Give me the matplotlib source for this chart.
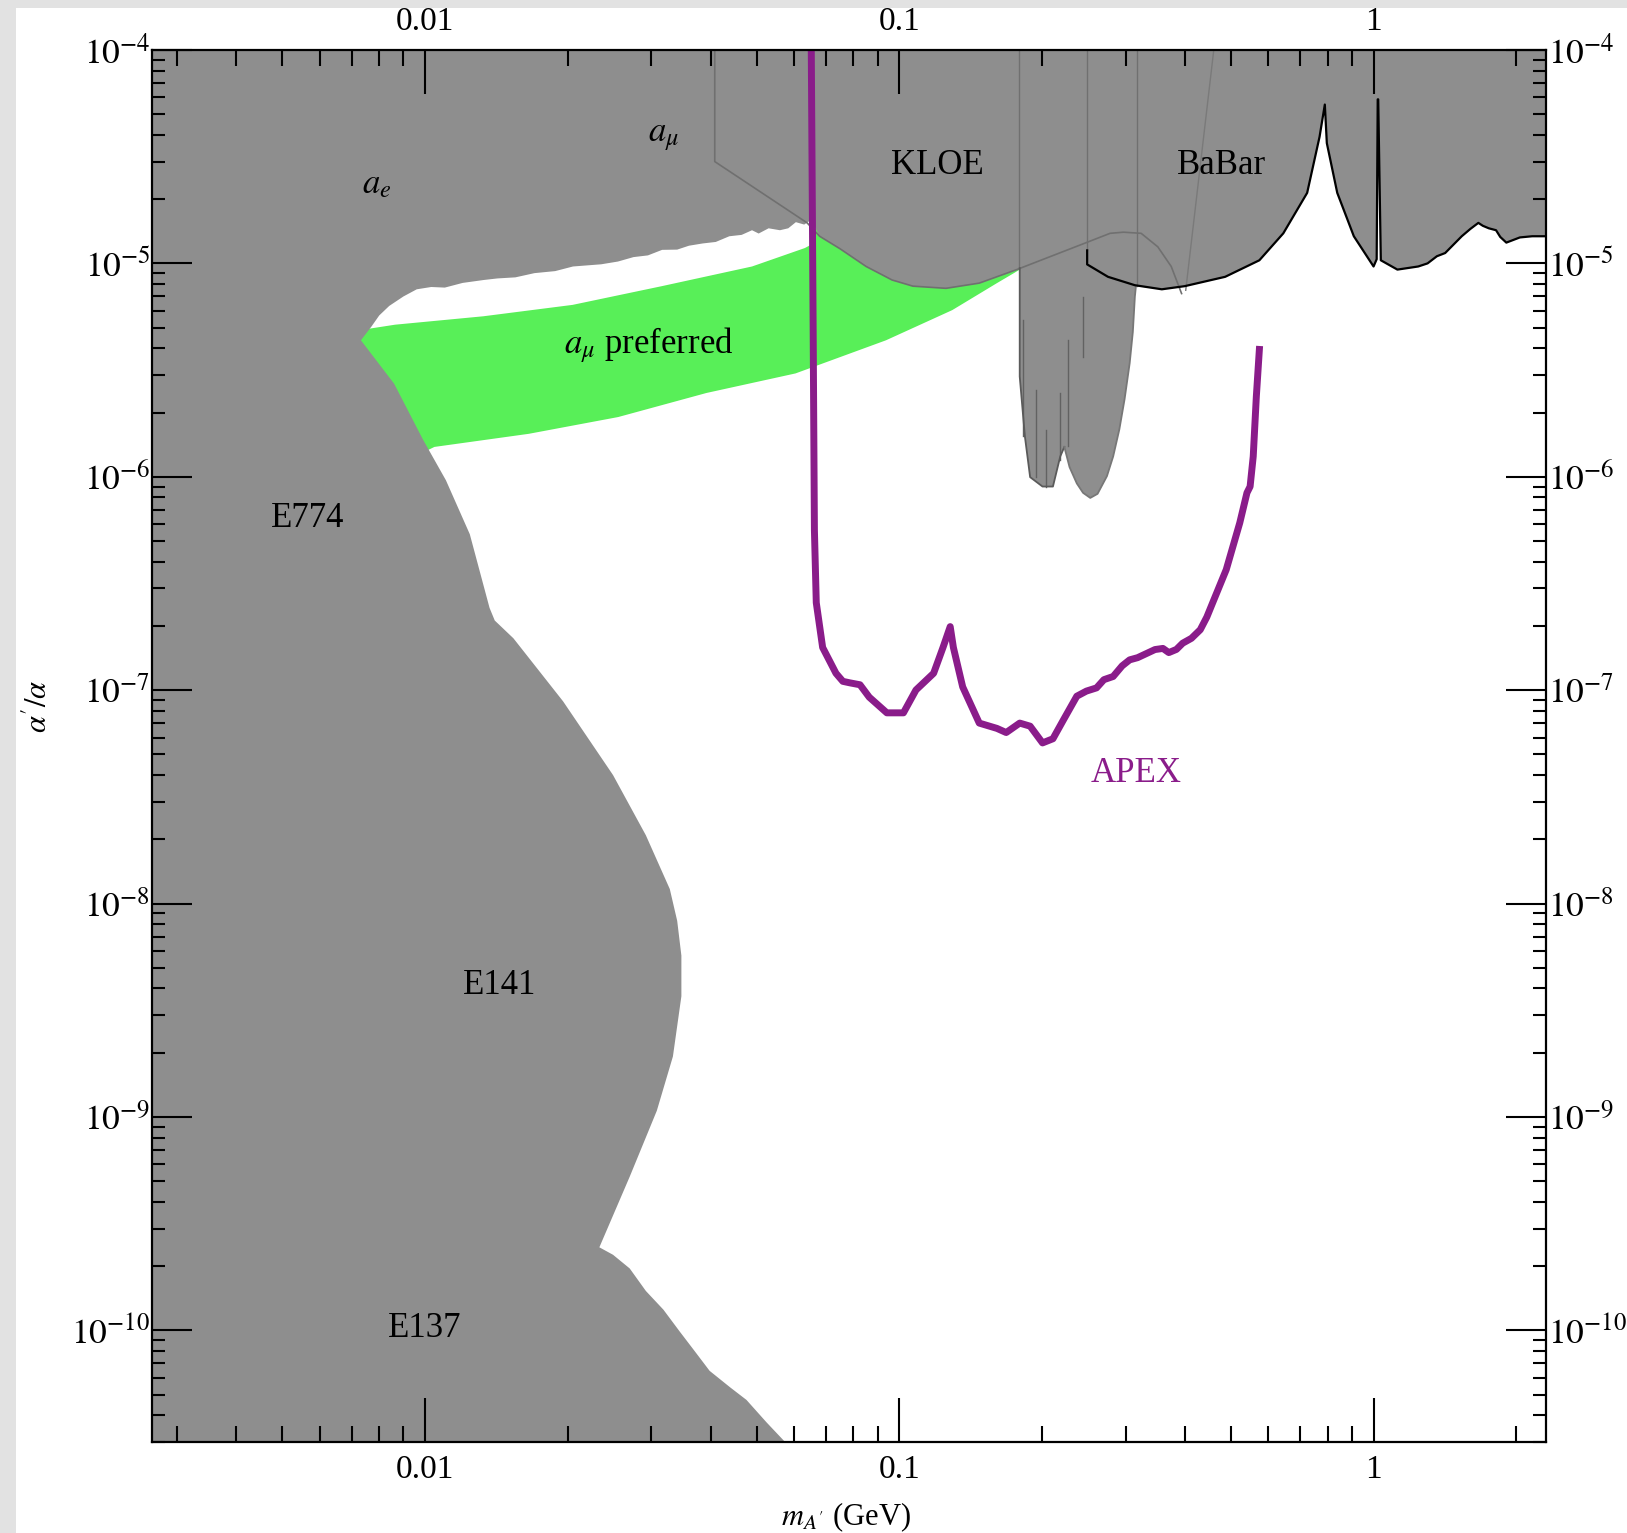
import numpy as np
import matplotlib.pyplot as plt
from matplotlib.patches import Rectangle
from matplotlib.ticker import LogLocator, FixedLocator, FixedFormatter, NullFormatter

plt.rcParams['font.family'] = ['Liberation Serif', 'DejaVu Serif']
plt.rcParams['mathtext.fontset'] = 'stix'

# a_e excluded region, lower (jagged) edge, right to left
ae_mass = [0.0652, 0.0630, 0.0605, 0.0583, 0.0560, 0.0530, 0.0505, 0.0489, 0.0465, 0.0438,
           0.0410, 0.0385, 0.0360, 0.0340, 0.0316, 0.0295, 0.0275, 0.0255, 0.0235, 0.0205,
           0.0188, 0.0170, 0.0155, 0.0142, 0.0133, 0.0120, 0.0110, 0.0103, 0.0096, 0.0090,
           0.0084, 0.0080, 0.0077]
ae_alpha = [1.60e-5, 1.52e-5, 1.56e-5, 1.46e-5, 1.43e-5, 1.46e-5, 1.38e-5, 1.43e-5, 1.36e-5, 1.34e-5,
            1.26e-5, 1.24e-5, 1.21e-5, 1.16e-5, 1.157e-5, 1.09e-5, 1.07e-5, 1.02e-5, 9.9e-6, 9.67e-6,
            9.2e-6, 9.0e-6, 8.6e-6, 8.5e-6, 8.36e-6, 8.1e-6, 7.7e-6, 7.75e-6, 7.56e-6, 7.0e-6,
            6.32e-6, 5.7e-6, 5.05e-6]

# beam dump (E774, E141, E137) edge, top to bottom
dump_mass = [0.00732, 0.00860, 0.00990, 0.01106, 0.01242, 0.01367, 0.01402, 0.01535, 0.01954, 0.0249,
             0.0292, 0.0328, 0.0340, 0.0347, 0.0347, 0.0333, 0.0308, 0.0270, 0.0233, 0.0249,
             0.0270, 0.0292, 0.0318, 0.0344, 0.0370, 0.0398, 0.0440, 0.0476, 0.0525, 0.0574, 0.0620]
dump_alpha = [4.36e-6, 2.73e-6, 1.49e-6, 9.63e-7, 5.38e-7, 2.43e-7, 2.12e-7, 1.75e-7, 8.86e-8, 4.00e-8,
              2.09e-8, 1.17e-8, 8.3e-9, 5.70e-9, 3.68e-9, 1.92e-9, 1.07e-9, 5.25e-10, 2.45e-10, 2.26e-10,
              1.95e-10, 1.53e-10, 1.25e-10, 9.89e-11, 8.0e-11, 6.46e-11, 5.4e-11, 4.72e-11, 3.7e-11, 3.0e-11, 2.4e-11]

# a_mu preferred band
green_top_mass = [0.00668, 0.00739, 0.00864, 0.01326, 0.02046, 0.03155, 0.0489, 0.0632, 0.0650, 0.0665, 0.0918, 0.195]
green_top_alpha = [4.89e-6, 4.89e-6, 5.16e-6, 5.65e-6, 6.39e-6, 7.82e-6, 9.67e-6, 1.18e-5, 1.22e-5, 1.45e-5, 1.6e-5, 1.9e-5]
green_low_mass = [0.00951, 0.01046, 0.01655, 0.02553, 0.0392, 0.0604, 0.0937, 0.1293, 0.1606, 0.175, 0.195]
green_low_alpha = [1.245e-6, 1.38e-6, 1.59e-6, 1.905e-6, 2.47e-6, 3.05e-6, 4.36e-6, 6.04e-6, 8.08e-6, 9.04e-6, 1.05e-5]

# a_mu / KLOE lower edge incl. the two funnels
kloe_mass = [0.0652, 0.0679, 0.0750, 0.0851, 0.0965, 0.1068, 0.1254, 0.1474, 0.1768, 0.1794,
             0.1794, 0.1840, 0.1887, 0.2004, 0.2108, 0.2184, 0.2228,
             0.2285, 0.2367, 0.2440, 0.2527, 0.2618, 0.2740, 0.2824, 0.2910, 0.2985, 0.3060,
             0.3107, 0.3138, 0.3154]
kloe_alpha = [1.60e-5, 1.34e-5, 1.17e-5, 9.67e-6, 8.36e-6, 7.82e-6, 7.64e-6, 8.08e-6, 9.35e-6, 9.5e-6,
              2.95e-6, 1.54e-6, 9.96e-7, 9.00e-7, 9.00e-7, 1.245e-6, 1.38e-6,
              1.11e-6, 9.31e-7, 8.41e-7, 7.96e-7, 8.32e-7, 1.007e-6, 1.245e-6, 1.667e-6, 2.31e-6, 3.41e-6,
              4.77e-6, 6.99e-6, 7.82e-6]

# dark streaks inside the first KLOE funnel
streak_mass = [0.1823, 0.1944, 0.2042, 0.2180, 0.2268, 0.2440]
streak_top = [5.43e-6, 2.55e-6, 1.66e-6, 2.47e-6, 4.38e-6, 6.98e-6]
streak_bottom = [1.55e-6, 1.0e-6, 9.0e-7, 1.2e-6, 1.39e-6, 3.66e-6]

# BaBar limit
babar_mass = [0.2489, 0.2489, 0.2754, 0.3138, 0.3577, 0.3997, 0.4865, 0.5744, 0.6452, 0.7244,
              0.7694, 0.7893, 0.7970, 0.8384, 0.9087, 1.000, 1.0153, 1.0204, 1.0229, 1.0359,
              1.1228, 1.2423, 1.30, 1.36, 1.4158, 1.5346, 1.60, 1.6634, 1.70, 1.75, 1.8127,
              1.85, 1.9055, 2.035, 2.161, 2.5]
babar_alpha = [1.15e-5, 9.89e-6, 8.65e-6, 7.9e-6, 7.56e-6, 7.82e-6, 8.65e-6, 1.034e-5, 1.383e-5, 2.14e-5,
               3.92e-5, 5.55e-5, 3.66e-5, 2.14e-5, 1.34e-5, 9.67e-6, 1.046e-5, 5.87e-5, 5.87e-5, 1.034e-5,
               9.35e-6, 9.67e-6, 1.0e-5, 1.08e-5, 1.118e-5, 1.34e-5, 1.45e-5, 1.548e-5, 1.50e-5, 1.46e-5, 1.43e-5,
               1.33e-5, 1.251e-5, 1.323e-5, 1.34e-5, 1.34e-5]

# faint internal boundaries
amu_line_mass = [0.0408, 0.0408, 0.0639, 0.0679, 0.0750, 0.0851, 0.0965, 0.1068, 0.1254, 0.1474,
                 0.1768, 0.2476, 0.2782, 0.2969, 0.3235, 0.3507, 0.3744, 0.3937]
amu_line_alpha = [1e-4, 3.00e-5, 1.548e-5, 1.34e-5, 1.17e-5, 9.67e-6, 8.36e-6, 7.82e-6, 7.64e-6, 8.08e-6,
                  9.35e-6, 1.25e-5, 1.383e-5, 1.40e-5, 1.383e-5, 1.196e-5, 9.67e-6, 7.22e-6]
guide_mass = [0.1784, 0.2489, 0.3170]
guide_floor = [9.4e-6, 1.15e-5, 7.8e-6]
slant_mass = [0.4603, 0.4017]
slant_alpha = [1e-4, 7.48e-6]

# APEX reach
apex_mass = [0.0652, 0.0658, 0.0662, 0.0668, 0.0689, 0.0735, 0.0760, 0.0785, 0.0826, 0.0864,
             0.0941, 0.1020, 0.1084, 0.1181, 0.1236, 0.1280, 0.1300, 0.1360, 0.1474, 0.1606,
             0.1680, 0.1794, 0.1887, 0.2004, 0.2108, 0.2217, 0.2367, 0.2480, 0.2605, 0.2700,
             0.2824, 0.2950, 0.3060, 0.3180, 0.3318, 0.3460, 0.3596, 0.3700, 0.3839, 0.3958,
             0.4130, 0.4311, 0.4450, 0.4579, 0.4890, 0.5222, 0.5408, 0.5491, 0.5575, 0.5660, 0.5744]
apex_alpha = [1e-4, 4.89e-6, 5.62e-7, 2.57e-7, 1.585e-7, 1.20e-7, 1.10e-7, 1.083e-7, 1.06e-7, 9.27e-8,
              7.83e-8, 7.83e-8, 1.002e-7, 1.20e-7, 1.585e-7, 1.985e-7, 1.585e-7, 1.036e-7, 7.01e-8, 6.62e-8,
              6.33e-8, 7.01e-8, 6.78e-8, 5.66e-8, 5.92e-8, 7.24e-8, 9.37e-8, 9.9e-8, 1.025e-7, 1.12e-7,
              1.159e-7, 1.30e-7, 1.387e-7, 1.42e-7, 1.484e-7, 1.55e-7, 1.569e-7, 1.50e-7, 1.552e-7, 1.66e-7,
              1.75e-7, 1.92e-7, 2.2e-7, 2.57e-7, 3.67e-7, 6.08e-7, 8.41e-7, 9.00e-7, 1.245e-6, 2.38e-6, 3.95e-6]

GRAY = '#8e8e8e'
GREEN = '#58ef58'
PURPLE = '#8a1c8a'

fig = plt.figure(figsize=(16.27, 15.33), dpi=100)
fig.patch.set_facecolor('#e2e2e2')
fig.add_artist(Rectangle((16 / 1627, 0), 1, 1 - 8 / 1533, transform=fig.transFigure,
                         facecolor='white', edgecolor='none', zorder=-1))
ax = fig.add_axes([0.0937, 0.0594, 0.8565, 0.9080])
ax.set_xscale('log')
ax.set_yscale('log')
xmin, xmax = 0.00266, 2.31
ymin, ymax = 3e-11, 1e-4

# green band
ax.fill(green_top_mass + green_low_mass[::-1], green_top_alpha + green_low_alpha[::-1],
        color=GREEN, lw=0, zorder=1)

# left region: a_e + beam dumps
left_x = [0.001, ae_mass[0]] + ae_mass + dump_mass + [0.001]
left_y = [1e-3, 1e-3] + ae_alpha + dump_alpha + [1e-12]
ax.fill(left_x, left_y, color=GRAY, lw=0, zorder=2)

# upper right: a_mu, KLOE, BaBar
bb = [(m, a) for m, a in zip(babar_mass, babar_alpha) if m > kloe_mass[-1]]
top_x = [kloe_mass[0]] + kloe_mass + [m for m, a in bb] + [5, 5]
top_y = [1e-3] + kloe_alpha + [a for m, a in bb] + [bb[-1][1], 1e-3]
ax.fill(top_x, top_y, color=GRAY, lw=0, zorder=2)

# faint boundaries inside the grey
ax.plot(amu_line_mass, amu_line_alpha, color='#707070', lw=1.2, zorder=3)
for m, f in zip(guide_mass, guide_floor):
    ax.plot([m, m], [ymax, f], color='#707070', lw=1.0, zorder=3)
ax.plot(slant_mass, slant_alpha, color='#7a7a7a', lw=1.0, zorder=3)
for m, t, b in zip(streak_mass, streak_top, streak_bottom):
    ax.plot([m, m], [t, b], color='#626262', lw=1.0, zorder=3)
ax.plot(kloe_mass[9:17], kloe_alpha[9:17], color='#5a5a5a', lw=1.3, zorder=3)
ax.plot(kloe_mass[16:], kloe_alpha[16:], color='#777777', lw=1.3, zorder=3)
ax.plot(babar_mass, babar_alpha, color='black', lw=1.6, zorder=4)

# APEX
ax.plot(apex_mass, apex_alpha, color=PURPLE, lw=5, solid_joinstyle='round', zorder=6)

ax.set_xlim(xmin, xmax)
ax.set_ylim(ymin, ymax)

ax.xaxis.set_major_locator(FixedLocator([0.01, 0.1, 1]))
ax.xaxis.set_major_formatter(FixedFormatter(['0.01', '0.1', '1']))
ax.xaxis.set_minor_locator(LogLocator(10, subs=np.arange(2, 10), numticks=50))
ax.xaxis.set_minor_formatter(NullFormatter())
ax.yaxis.set_major_locator(FixedLocator(10.0 ** np.arange(-10, -3)))
ax.yaxis.set_major_formatter(FixedFormatter([r'$10^{%d}$' % k for k in range(-10, -3)]))
ax.yaxis.set_minor_locator(LogLocator(10, subs=np.arange(2, 10), numticks=50))
ax.yaxis.set_minor_formatter(NullFormatter())

ax.tick_params(which='both', direction='in', top=True, right=True, labeltop=True,
               labelright=True, colors='black', width=1.5)
ax.tick_params(axis='x', which='major', length=32, pad=9, labelsize=24)
ax.tick_params(axis='x', which='minor', length=11.5)
ax.tick_params(axis='y', which='major', length=29, pad=1.5, labelsize=25.5)
ax.tick_params(axis='y', which='minor', length=9.5)
ax.xaxis.set_zorder(8)
ax.yaxis.set_zorder(8)
for s in ax.spines.values():
    s.set_linewidth(1.6)
    s.set_zorder(9)

# labels
fs = 25
ax.text(0.00789, 2.34e-5, r'$a_e$', fontsize=fs, ha='center', va='center')
ax.text(0.0319, 3.92e-5, r'$a_\mu$', fontsize=fs, ha='center', va='center')
ax.text(0.1205, 2.87e-5, 'KLOE', fontsize=fs, ha='center', va='center')
ax.text(0.479, 2.87e-5, 'BaBar', fontsize=fs, ha='center', va='center')
ax.text(0.02955, 4.13e-6, r'$a_\mu$ preferred', fontsize=fs, ha='center', va='center')
ax.text(0.00566, 6.36e-7, 'E774', fontsize=fs, ha='center', va='center')
ax.text(0.01438, 4.12e-9, 'E141', fontsize=fs, ha='center', va='center')
ax.text(0.0100, 1.02e-10, 'E137', fontsize=fs, ha='center', va='center')
ax.text(0.3154, 4.09e-8, 'APEX', fontsize=fs, ha='center', va='center', color=PURPLE)

fig.text(39 / 1627, 1 - 706 / 1533, r"$\alpha'/\alpha$", rotation=90, fontsize=22,
         ha='center', va='center')
fig.text(846 / 1627, 1 - 1517 / 1533, r"$m_{A'}$ (GeV)", fontsize=22, ha='center', va='center')

fig.savefig('out.png', dpi=100, facecolor=fig.get_facecolor())
